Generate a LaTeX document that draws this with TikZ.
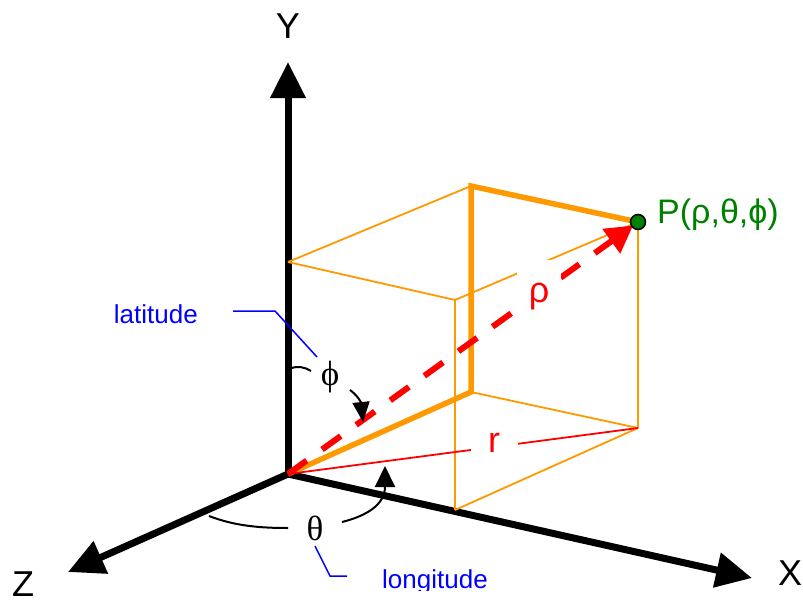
\documentclass[tikz,border=0pt]{standalone}
\usepackage{fontspec}
\setmainfont{Liberation Sans}
\newfontfamily\serifg{Liberation Serif}
\usetikzlibrary{arrows.meta}
\definecolor{boxorange}{RGB}{255,153,0}
\definecolor{ptgreen}{RGB}{0,128,0}
\begin{document}
\begin{tikzpicture}[x=1pt,y=-1pt,
  axisline/.style={line width=7pt,-{Triangle[length=36pt,width=34pt]}},
  thinbox/.style={boxorange,line width=1.8pt},
  thickbox/.style={boxorange,line width=5.5pt,line join=miter},
  anglemark/.style={line width=2pt},
  leader/.style={blue,line width=1.5pt},
  axislabel/.style={font=\fontsize{36pt}{40pt}\selectfont,inner sep=0pt},
  redlabel/.style={red,fill=white,font=\fontsize{36pt}{40pt}\selectfont,inner sep=0pt},
  greeklabel/.style={font=\serifg\fontsize{35pt}{38pt}\selectfont,inner sep=0pt},
  bluelabel/.style={blue,font=\fontsize{26pt}{30pt}\selectfont,inner sep=0pt}]
\useasboundingbox (0,0) rectangle (803,605);
% points
\coordinate (O) at (288,474);
\coordinate (A) at (288,262);
\coordinate (B) at (471,186);
\coordinate (C) at (638,222);
\coordinate (D) at (455,300);
\coordinate (E) at (471,392);
\coordinate (F) at (638,428);
\coordinate (G) at (455,510);
\coordinate (Ytip) at (288,62);
\coordinate (Xtip) at (752,578);
\coordinate (Ztip) at (68,572);
% axes
\draw[axisline] (O) -- (Ytip);
\draw[axisline] (O) -- (Xtip);
\draw[axisline] (O) -- (Ztip);
% box
\draw[thinbox] (A) -- (B);
\draw[thinbox] (A) -- (D);
\draw[thinbox] (D) -- (C);
\draw[thinbox] (D) -- (G);
\draw[thinbox] (G) -- (F);
\draw[thinbox] (E) -- (F);
\draw[thinbox] (C) -- (F);
\draw[thickbox] (O) -- (E) -- (B) -- (C);
% r line and rho vector
\draw[red,line width=1.8pt] (O) -- (F);
\draw[red,line width=6pt,dash pattern=on 23pt off 19pt,
      -{Triangle[length=27pt,width=29pt]},shorten >=6pt] (O) -- (C);
% labels with white backgrounds
\node[redlabel,minimum width=44pt,minimum height=74pt] (rho) at (539,297) {ρ};
\node[redlabel,minimum width=47pt,minimum height=44pt] (r) at (494,443) {r};
% axis labels
\node[axislabel] (Ylab) at (288,26) {Y};
\node[axislabel] (Xlab) at (790,573) {X};
\node[axislabel] (Zlab) at (23,584) {Z};
% point P
\node[ptgreen,font=\fontsize{34pt}{38pt}\selectfont,inner sep=0pt,anchor=base west] (Plab) at (657,223) {P(ρ,θ,ϕ)};
\node[circle,fill=ptgreen,draw=black,line width=1.5pt,minimum size=15pt,inner sep=0pt] (P) at (C) {};
% angle labels
\node[greeklabel] (phi) at (330,377) {ϕ};
\node[greeklabel] (theta) at (315,528) {θ};
\coordinate (phiA) at (291,368);
\coordinate (phiB) at (311,371);
\coordinate (phiC) at (350,390);
\coordinate (phiT) at (363,422);
\draw[anglemark] (phiA) .. controls (298,366) and (305,367) .. (phiB);
\draw[anglemark,-{Triangle[length=20pt,width=17pt]}] (phiC) .. controls (357,395) and (361,402) .. (phiT);
\coordinate (thA) at (209,516);
\coordinate (thB) at (288,528);
\coordinate (thC) at (342,522);
\coordinate (thT) at (385,466);
\draw[anglemark] (thA) .. controls (235,526) and (260,528) .. (thB);
\draw[anglemark,-{Triangle[length=21pt,width=20pt]}] (thC) .. controls (366,516) and (385,505) .. (thT);
% leaders
\node[bluelabel,anchor=base east] (lat) at (198,323) {latitude};
\coordinate (latS) at (233,311);
\coordinate (latK) at (275,311);
\coordinate (latE) at (317,357);
\draw[leader] (latS) -- (latK) -- (latE);
\begin{scope}
\clip (0,0) rectangle (803,590);
\node[bluelabel,anchor=base west] (lon) at (382,588) {longitude};
\end{scope}
\coordinate (lonS) at (315,546);
\coordinate (lonK) at (330,576);
\coordinate (lonE) at (347,576);
\draw[leader] (lonS) -- (lonK) -- (lonE);
\end{tikzpicture}
\end{document}
